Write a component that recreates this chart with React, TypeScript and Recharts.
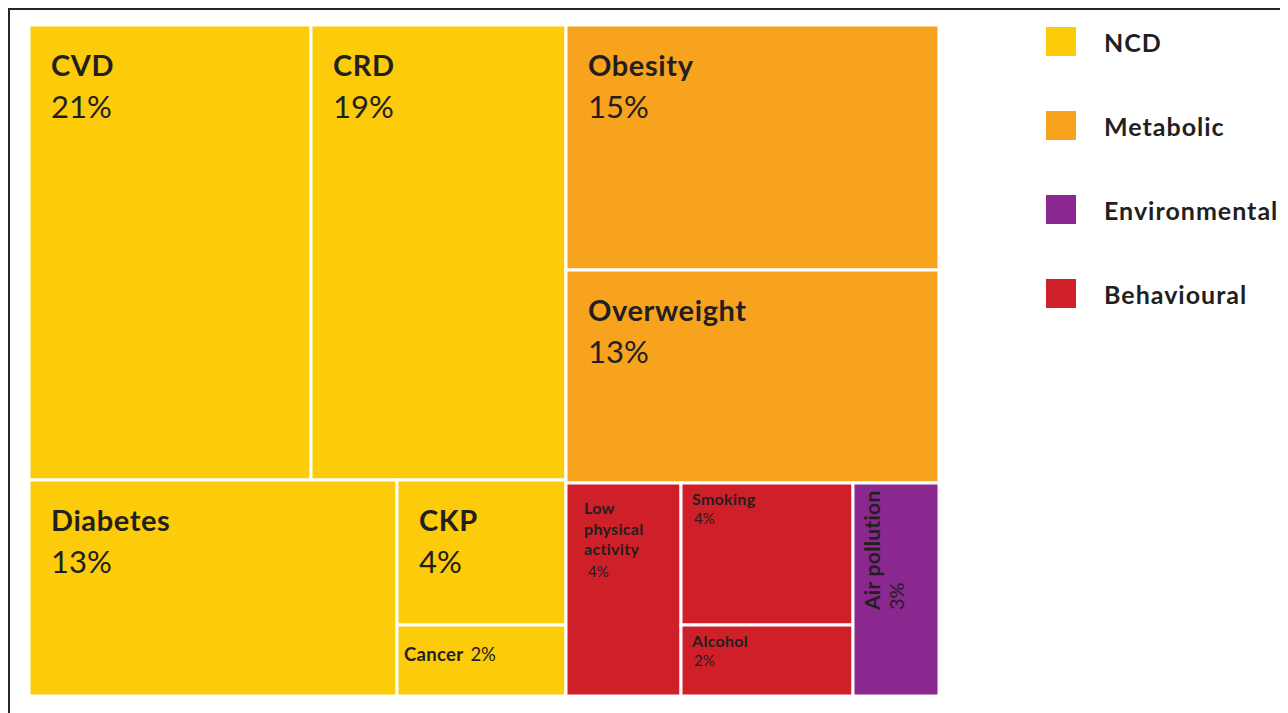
import { Treemap } from 'recharts';

// values read from the tiles (share of total, %)
const ncdNames = ['CVD', 'CRD', 'Diabetes', 'CKP', 'Cancer'];
const ncdValues = [21, 19, 13, 4, 2];
const metabolicNames = ['Obesity', 'Overweight'];
const metabolicValues = [15, 13];
const behaviouralNames = ['Low physical activity', 'Smoking', 'Alcohol'];
const behaviouralValues = [4, 4, 2];
const environmentalNames = ['Air pollution'];
const environmentalValues = [3];
const legendLabels = ['NCD', 'Metabolic', 'Environmental', 'Behavioural'];

const COLORS: Record<string, string> = {
  NCD: '#fccb0a',
  Metabolic: '#f8a31e',
  Environmental: '#8a288f',
  Behavioural: '#cf1f28',
};
const TEXT = '#231f20';
const FONT = 'Lato, "Open Sans", sans-serif';

function leaves(category: string, names: string[], values: number[]) {
  return names.map((name, i) => ({ name, value: values[i], category }));
}

// nesting follows the grouping of the tiles in the picture
const treeData = [
  { name: 'NCD', children: leaves('NCD', ncdNames, ncdValues) },
  {
    name: 'Risk factors',
    children: [
      { name: 'Metabolic', children: leaves('Metabolic', metabolicNames, metabolicValues) },
      {
        name: 'Other risk factors',
        children: [
          { name: 'Behavioural', children: leaves('Behavioural', behaviouralNames, behaviouralValues) },
          { name: 'Environmental', children: leaves('Environmental', environmentalNames, environmentalValues) },
        ],
      },
    ],
  },
];

function renderCell(props: any) {
  const { x, y, width, height, name, value, category, children } = props;
  if ((children && children.length) || !category) return <g />;
  const fill = COLORS[category];
  const pct = `${value}%`;

  let label = null;
  if (width < 100) {
    // narrow tile: vertical label
    const py = y + 127;
    label = (
      <g fill={TEXT} fontFamily={FONT}>
        <text x={x + 27} y={py} fontSize={21} fontWeight={700} letterSpacing={0.3} transform={`rotate(-90, ${x + 27}, ${py})`}>{name}</text>
        <text x={x + 51} y={py} fontSize={20} fontWeight={400} transform={`rotate(-90, ${x + 51}, ${py})`}>{pct}</text>
      </g>
    );
  } else if (category === 'Behavioural') {
    const words = width < 140 ? name.split(' ') : [name];
    const wrapped = words.length > 1;
    const lx = x + (wrapped ? 18 : 11);
    const ly = y + (wrapped ? 31 : 22);
    label = (
      <g fill={TEXT} fontFamily={FONT}>
        <text x={lx} y={ly} fontSize={16} fontWeight={700} letterSpacing={0.3}>
          {words.map((w: string, i: number) => (
            <tspan key={w} x={lx} dy={i === 0 ? 0 : 20.5}>{w}</tspan>
          ))}
        </text>
        <text x={lx + (wrapped ? 4 : 2)} y={ly + (words.length - 1) * 20.5 + (wrapped ? 22 : 19)} fontSize={15} fontWeight={400}>{pct}</text>
      </g>
    );
  } else if (height < 90) {
    // short tile: name and value on one line
    label = (
      <text x={x + 7} y={y + 36} fill={TEXT} fontFamily={FONT} fontSize={18.5}>
        <tspan fontWeight={700} letterSpacing={0.3}>{name}</tspan>
        <tspan fontWeight={400} dx={7}>{pct}</tspan>
      </text>
    );
  } else {
    label = (
      <g fill={TEXT} fontFamily={FONT}>
        <text x={x + 22} y={y + 51} fontSize={29} fontWeight={700} letterSpacing={0.6}>{name}</text>
        <text x={x + 22} y={y + 93} fontSize={31} fontWeight={400}>{pct}</text>
      </g>
    );
  }

  return (
    <g>
      <rect x={x} y={y} width={width} height={height} fill={fill} stroke="#fff" strokeWidth={3} />
      {label}
    </g>
  );
}

export default function App() {
  return (
    <div
      style={{
        position: 'relative',
        marginLeft: -1,
        marginTop: -1,
        width: 1281,
        height: 706,
        boxSizing: 'border-box',
        borderTop: '3px solid #262626',
        borderLeft: '3px solid #262626',
        overflow: 'hidden',
        background: '#fff',
      }}
    >
      <div style={{ position: 'absolute', left: 19, top: 15 }}>
        <Treemap
          width={910}
          height={671}
          data={treeData}
          dataKey="value"
          nameKey="name"
          aspectRatio={1}
          isAnimationActive={false}
          content={renderCell}
        />
      </div>
      <div style={{ position: 'absolute', left: 1036, top: 17, fontFamily: FONT }}>
        {legendLabels.map((label) => (
          <div key={label} style={{ display: 'flex', alignItems: 'center', height: 29, marginBottom: 55 }}>
            <div style={{ width: 30, height: 29, background: COLORS[label] }} />
            <span style={{ marginLeft: 28, fontSize: 25, fontWeight: 700, color: TEXT, letterSpacing: 1 }}>{label}</span>
          </div>
        ))}
      </div>
    </div>
  );
}
